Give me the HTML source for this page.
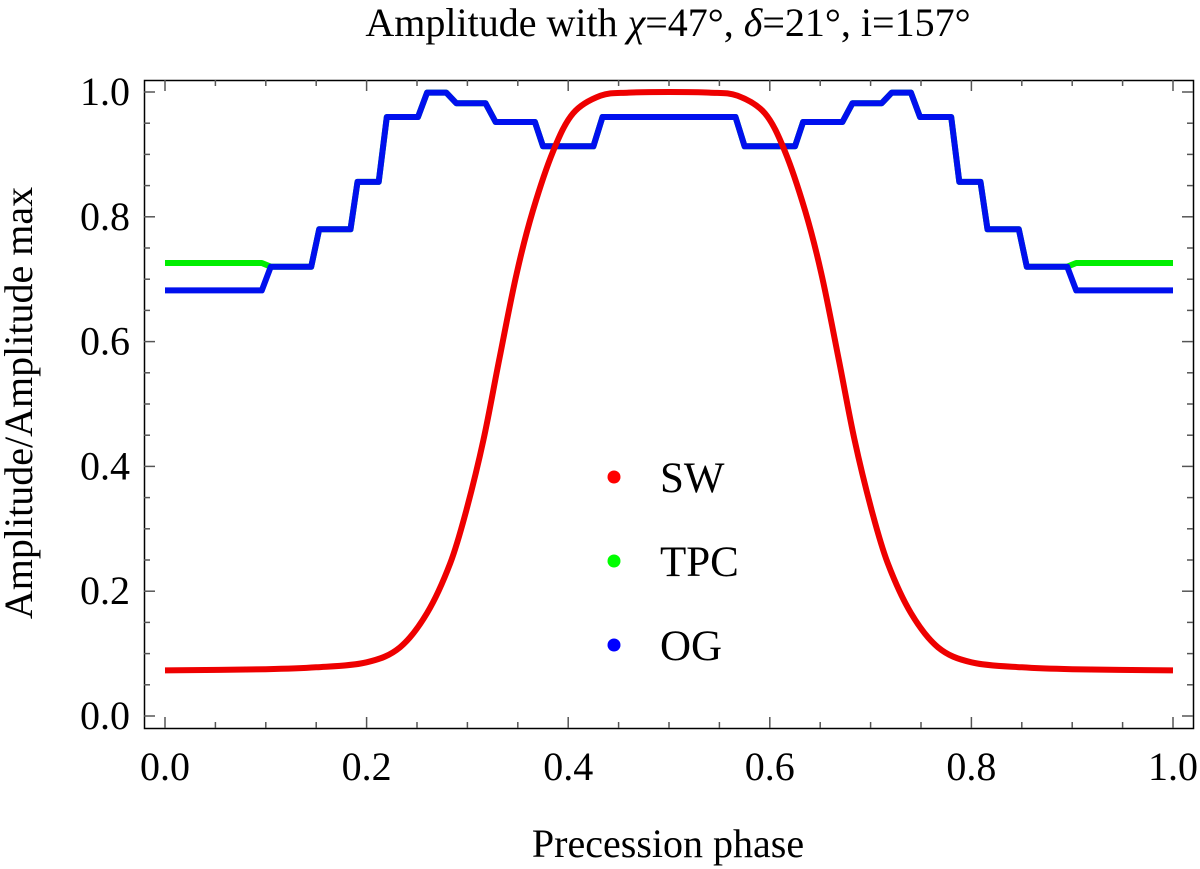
<!DOCTYPE html>
<html><head><meta charset="utf-8"><style>
html,body{margin:0;padding:0;background:#fff;}
svg{display:block;font-family:"Liberation Serif",serif;}
</style></head><body>
<svg id="chart" width="1200" height="869">
<text x="668" y="36" text-anchor="middle" font-size="40">Amplitude with <tspan font-style="italic">χ</tspan>=47°, <tspan font-style="italic">δ</tspan>=21°, i=157°</text>
<rect x="144.5" y="80.5" width="1049" height="648" fill="none" stroke="#000" stroke-width="1.5"/>
<g id="ticks"></g>
<g id="series"></g>
<text x="668" y="857" text-anchor="middle" font-size="40">Precession phase</text>
<text transform="translate(32,403) rotate(-90)" text-anchor="middle" font-size="40">Amplitude/Amplitude max</text>
<g>
<circle cx="614" cy="477" r="6.5" fill="#f00"/>
<text x="660" y="492" font-size="43">SW</text>
<circle cx="614" cy="561" r="6.5" fill="#0f0"/>
<text x="660" y="576" font-size="43">TPC</text>
<circle cx="614" cy="645" r="6.5" fill="#00f"/>
<text x="660" y="660" font-size="43">OG</text>
</g>
</svg>
<script>
const xTickLabels = ["0.0","0.2","0.4","0.6","0.8","1.0"];
const yTickLabels = ["0.0","0.2","0.4","0.6","0.8","1.0"];
const swX = [0,0.1,0.15,0.2,0.233,0.26,0.283,0.299,0.316,0.332,0.349,0.365,0.385,0.405,0.432,0.46,0.5,0.54,0.568,0.595,0.615,0.635,0.651,0.668,0.684,0.701,0.717,0.74,0.767,0.8,0.85,0.9,1];
const swY = [0.073,0.075,0.078,0.086,0.11,0.165,0.245,0.33,0.443,0.575,0.71,0.81,0.905,0.966,0.994,0.999,1.0,0.999,0.994,0.966,0.905,0.81,0.71,0.575,0.443,0.33,0.245,0.165,0.11,0.086,0.078,0.075,0.073];
const tpcX = [0,0.096,0.105,0.145,0.153,0.184,0.191,0.212,0.22,0.251,0.26,0.279,0.289,0.318,0.328,0.367,0.375,0.425,0.434,0.566,0.575,0.625,0.633,0.672,0.682,0.711,0.721,0.74,0.749,0.78,0.788,0.809,0.816,0.847,0.855,0.895,0.904,1];
const tpcY = [0.726,0.726,0.72,0.72,0.78,0.78,0.856,0.856,0.96,0.96,0.999,0.999,0.982,0.982,0.952,0.952,0.913,0.913,0.96,0.96,0.913,0.913,0.952,0.952,0.982,0.982,0.999,0.999,0.96,0.96,0.856,0.856,0.78,0.78,0.72,0.72,0.726,0.726];
const ogX = [0,0.096,0.105,0.145,0.153,0.184,0.191,0.212,0.22,0.251,0.26,0.279,0.289,0.318,0.328,0.367,0.375,0.425,0.434,0.566,0.575,0.625,0.633,0.672,0.682,0.711,0.721,0.74,0.749,0.78,0.788,0.809,0.816,0.847,0.855,0.895,0.904,1];
const ogY = [0.682,0.682,0.72,0.72,0.78,0.78,0.856,0.856,0.96,0.96,0.999,0.999,0.982,0.982,0.952,0.952,0.913,0.913,0.96,0.96,0.913,0.913,0.952,0.952,0.982,0.982,0.999,0.999,0.96,0.96,0.856,0.856,0.78,0.78,0.72,0.72,0.682,0.682];

const NS="http://www.w3.org/2000/svg";
const sx = v => 165 + v*1008;
const sy = v => 716 - v*624;
const ticks = document.getElementById('ticks');
const series = document.getElementById('series');
function mk(tag, attrs, parent){const e=document.createElementNS(NS,tag);for(const k in attrs)e.setAttribute(k,attrs[k]);parent.appendChild(e);return e;}
for(let i=0;i<=20;i++){
  const v=i*0.05, major=i%4===0, len=major?11:6;
  const X=sx(v);
  let t=mk('line',{x1:X,x2:X,y1:728,y2:728-len,stroke:'#555','stroke-width':1.5},ticks);
  
  
  t=mk('line',{x1:X,x2:X,y1:80,y2:80+len,stroke:'#555','stroke-width':1.5},ticks);
  
  
  const Y=sy(v);
  t=mk('line',{x1:144,x2:144+len,y1:Y,y2:Y,stroke:'#555','stroke-width':1.5},ticks);
  
  
  t=mk('line',{x1:1193,x2:1193-len,y1:Y,y2:Y,stroke:'#555','stroke-width':1.5},ticks);
  
  
}
xTickLabels.forEach((s)=>{
  const e=mk('text',{x:sx(parseFloat(s)),y:780,'text-anchor':'middle','font-size':40},ticks);
  e.textContent=s;
  
  
});
yTickLabels.forEach((s)=>{
  const e=mk('text',{x:130,y:sy(parseFloat(s))+13,'text-anchor':'end','font-size':40},ticks);
  e.textContent=s;
  
  
});
function line(xs,ys,color,name){
  const pts=xs.map((x,i)=>sx(x).toFixed(1)+','+sy(ys[i]).toFixed(1)).join(' ');
  const p=mk('polyline',{points:pts,fill:'none',stroke:color,'stroke-width':6,'stroke-linejoin':'round'},series);
  
  
}
function smooth(xs,ys,color,name){
  const P=xs.map((x,i)=>[sx(x),sy(ys[i])]);
  let d='M'+P[0][0].toFixed(1)+','+P[0][1].toFixed(1);
  for(let i=0;i<P.length-1;i++){
    const p0=P[Math.max(i-1,0)],p1=P[i],p2=P[i+1],p3=P[Math.min(i+2,P.length-1)];
    const c1=[p1[0]+(p2[0]-p0[0])/6,p1[1]+(p2[1]-p0[1])/6];
    const c2=[p2[0]-(p3[0]-p1[0])/6,p2[1]-(p3[1]-p1[1])/6];
    d+=' C'+c1.map(v=>v.toFixed(1)).join(',')+' '+c2.map(v=>v.toFixed(1)).join(',')+' '+p2.map(v=>v.toFixed(1)).join(',');
  }
  const p=mk('path',{d:d,fill:'none',stroke:color,'stroke-width':6,'stroke-linejoin':'round'},series);
  
  
}
line(tpcX,tpcY,'#00ee00','tpc-line');
line(ogX,ogY,'#0010ee','og-line');
smooth(swX,swY,'#ee0000','sw-line');
</script>
</body></html>
